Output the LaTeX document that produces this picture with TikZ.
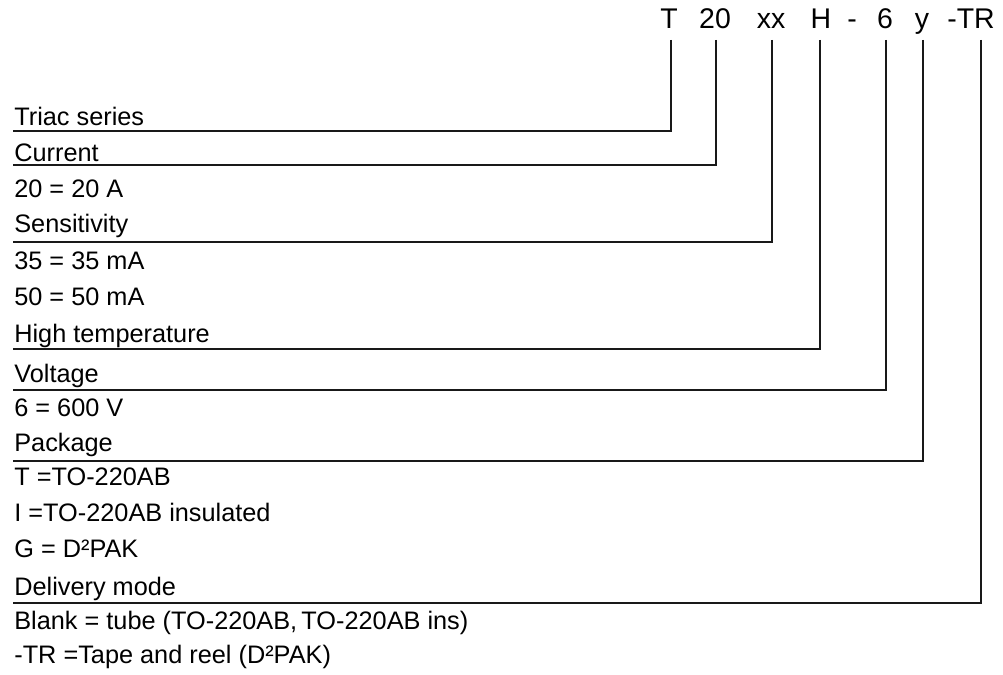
\documentclass[tikz,border=0pt]{standalone}
\usepackage{fontspec}
\setmainfont{Liberation Sans}
\usetikzlibrary{calc}

\begin{document}
\begin{tikzpicture}[
  x=0.02cm, y=0.02cm,
  code/.style={font=\fontsize{16.2}{19}\selectfont, anchor=base, inner sep=0pt},
  entry/.style={font=\fontsize{14.4}{17}\selectfont, anchor=base west, inner sep=0pt},
  lead/.style={line width=1.1pt, draw=black!90}
]
\useasboundingbox (0,0) rectangle (1003,675);

% ------------------------------------------------------------------
% Part number
% ------------------------------------------------------------------
\node[code] (cT)   at (669,646) {T};
\node[code] (c20)  at (715,646) {20};
\node[code] (cxx)  at (771,646) {xx};
\node[code] (cH)   at (821,646) {H};
\node[code] (cdash) at (852,646) {-};
\node[code] (c6)   at (885,646) {6};
\node[code] (cy)   at (922,646) {y};
\node[code] (cTR)  at (971,646) {-TR};

% ------------------------------------------------------------------
% Field descriptions
% ------------------------------------------------------------------
\node[entry] (triac)  at (14,549) {Triac series};
\node[entry] (curr)   at (14,513) {Current};
\node[entry] (curr1)  at (14,477) {20 = 20 A};
\node[entry] (sens)   at (14,442) {Sensitivity};
\node[entry] (sens1)  at (14,405) {35 = 35 mA};
\node[entry] (sens2)  at (14,369) {50 = 50 mA};
\node[entry] (htemp)  at (14,332) {High temperature};
\node[entry] (volt)   at (14,292) {Voltage};
\node[entry] (volt1)  at (14,258) {6 = 600 V};
\node[entry] (pack)   at (14,223) {Package};
\node[entry] (pack1)  at (14,189) {T =TO-220AB};
\node[entry] (pack2)  at (14,153) {I =TO-220AB insulated};
\node[entry] (pack3)  at (14,117) {G = D²PAK};
\node[entry] (deliv)  at (14,79)  {Delivery mode};
\node[entry] (deliv1) at (14,45)  {Blank = tube (TO-220AB,\,TO-220AB ins)};
\node[entry] (deliv2) at (14,11)  {-TR =Tape and reel (D²PAK)};

% end points of the leader lines
\coordinate (eT)  at (13,544);
\coordinate (e20) at (13,510);
\coordinate (exx) at (13,433);
\coordinate (eH)  at (13,326);
\coordinate (e6)  at (13,285);
\coordinate (ey)  at (13,214);
\coordinate (eTR) at (13,72);

% leader lines
\foreach \c/\e/\dx in {cT/eT/2, c20/e20/1, cxx/exx/1, cH/eH/-1, c6/e6/1, cy/ey/1, cTR/eTR/10} {
  \draw[lead] ($(\c.base)+(\dx,-11)$) |- (\e);
}

\end{tikzpicture}
\end{document}
